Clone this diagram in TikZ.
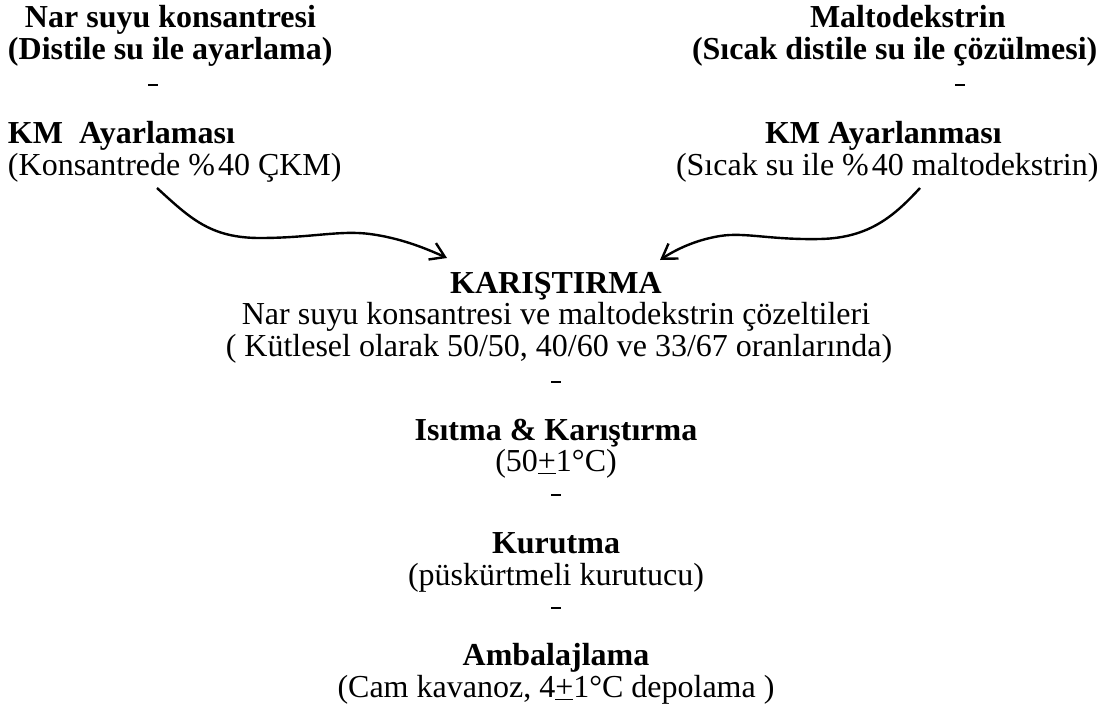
\documentclass[tikz,border=0pt]{standalone}
\usepackage{fontspec}
\setmainfont{Liberation Serif}
\usetikzlibrary{arrows.meta}
\begin{document}
\begin{tikzpicture}[x=0.5pt,y=-0.5pt,
  every node/.style={inner sep=0pt,outer sep=0pt,font=\fontsize{16}{19}\selectfont},
  tl/.style={anchor=base west,font=\fontsize{16}{19}\selectfont\bfseries},
  tx/.style={anchor=base west},
  tc/.style={anchor=base,font=\fontsize{16}{19}\selectfont\bfseries},
  cx/.style={anchor=base},
  dashmark/.style={anchor=center},
  flow/.style={line width=1.2pt,-{Straight Barb[length=7pt,width=9pt,line width=1.2pt]}}]
\useasboundingbox (0,0) rectangle (1117,718);
% left block
\node[tl] (l1) at (25,27) {Nar suyu konsantresi};
\node[tl] (l2) at (8,59) {(Distile su ile ayarlama)};
\node[dashmark] (ld) at (153,85) {\rule{5pt}{1pt}};
\node[tl] (l3) at (8,143) {KM~~Ayarlaması};
\node[tx] (l4) at (8,175) {(Konsantrede \%\kern1.5pt40 ÇKM)};
% right block
\node[tl] (r1) at (810,27) {Maltodekstrin};
\node[tl] (r2) at (692,59) {(Sıcak distile su ile çözülmesi)};
\node[dashmark] (rd) at (960,85) {\rule{5pt}{1pt}};
\node[tl] (r3) at (765,143) {KM Ayarlanması};
\node[tx] (r4) at (676,175) {(Sıcak su ile \%\kern1.5pt40 maltodekstrin)};
% center column
\node[tc] (c1) at (556,293) {KARIŞTIRMA};
\node[cx] (c2) at (556,324) {Nar suyu konsantresi ve maltodekstrin çözeltileri};
\node[cx] (c3) at (559,356) {( Kütlesel olarak 50/50, 40/60 ve 33/67 oranlarında)};
\node[dashmark] (cd1) at (556,382) {\rule{5pt}{1pt}};
\node[tc] (c4) at (556,440) {Isıtma \& Karıştırma};
\node[cx] (c5) at (556,471) {(50\underline{+}1°C)};
\node[dashmark] (cd2) at (556,495) {\rule{5pt}{1pt}};
\node[tc] (c6) at (556,553) {Kurutma};
\node[cx] (c7) at (556,585) {(püskürtmeli kurutucu)};
\node[dashmark] (cd3) at (556,608) {\rule{5pt}{1pt}};
\node[tc] (c8) at (556,665) {Ambalajlama};
\node[cx] (c9) at (556,697) {(Cam kavanoz, 4\underline{+}1°C depolama )};
% connectors
\coordinate (la) at (157,188);
\coordinate (lb) at (447,258);
\coordinate (ra) at (920,188);
\coordinate (rb) at (660,260);
\draw[flow] (la) .. controls (190,218) and (210,238) .. (260,238)
  .. controls (310,238) and (340,230) .. (370,234)
  .. controls (400,238) and (425,248) .. (lb);
\draw[flow] (ra) .. controls (895,215) and (870,238) .. (820,239)
  .. controls (770,240) and (745,232) .. (720,236)
  .. controls (695,240) and (675,250) .. (rb);
\end{tikzpicture}
\end{document}
